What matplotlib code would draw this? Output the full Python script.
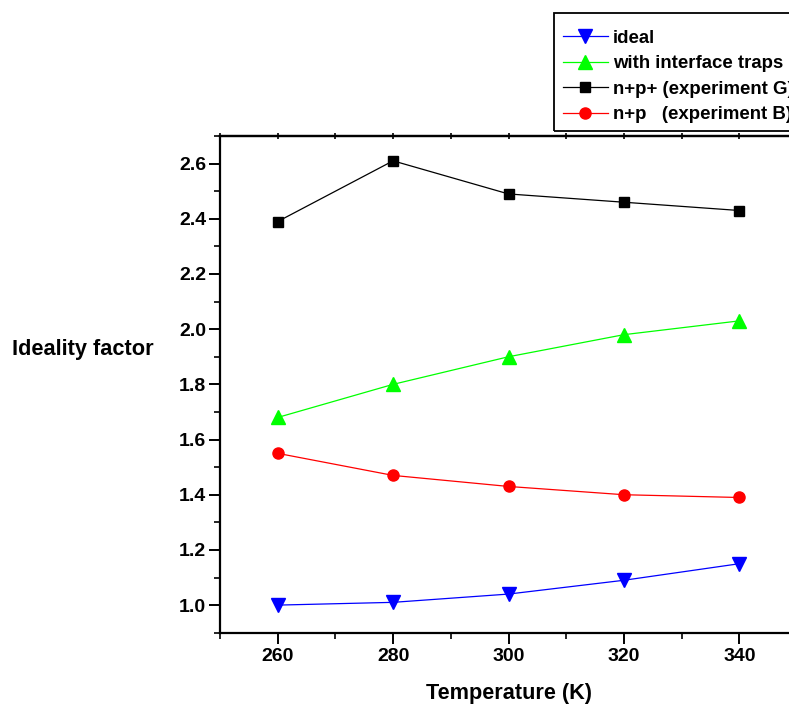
import matplotlib
matplotlib.use("Agg")
import matplotlib.pyplot as plt
from matplotlib.ticker import MultipleLocator, FormatStrFormatter
from matplotlib.patches import Rectangle

plt.rcParams['font.family'] = ['Liberation Sans', 'DejaVu Sans']
plt.rcParams['font.weight'] = 'bold'

temperature = [260, 280, 300, 320, 340]
ideal = [1.00, 1.01, 1.04, 1.09, 1.15]
interface_traps = [1.68, 1.80, 1.90, 1.98, 2.03]
exp_g = [2.39, 2.61, 2.49, 2.46, 2.43]
exp_b = [1.55, 1.47, 1.43, 1.40, 1.39]
y_ticks = [1.0, 1.2, 1.4, 1.6, 1.8, 2.0, 2.2, 2.4, 2.6]

W, H = 789, 707
fig = plt.figure(figsize=(W / 100, H / 100), dpi=100)
ax = fig.add_axes([220 / W, 1 - 632.7 / H, 577 / W, 496.7 / H])

l1, = ax.plot(temperature, ideal, color='#0000ff', lw=0.9, marker='v', ms=9.5,
              label='ideal')
l2, = ax.plot(temperature, interface_traps, color='#00ff00', lw=0.9, marker='^', ms=9.5,
              label='with interface traps')
l3, = ax.plot(temperature, exp_g, color='black', lw=0.9, marker='s', ms=7.5,
              label='n+p+ (experiment G)')
l4, = ax.plot(temperature, exp_b, color='#ff0000', lw=0.9, marker='o', ms=8,
              label='n+p   (experiment B)')

ax.set_xlim(250, 350)
ax.set_ylim(0.9, 2.7)
ax.xaxis.set_major_locator(MultipleLocator(20))
ax.xaxis.set_minor_locator(MultipleLocator(10))
ax.set_yticks(y_ticks)
ax.yaxis.set_minor_locator(MultipleLocator(0.1))
ax.yaxis.set_major_formatter(FormatStrFormatter('%.1f'))

for side in ('left', 'bottom', 'top'):
    ax.spines[side].set_linewidth(1.6)
ax.spines['right'].set_visible(False)

ax.tick_params(axis='both', which='major', direction='out', length=8, width=1.4,
               labelsize=14, pad=2)
ax.tick_params(axis='x', which='major', pad=3)
ax.tick_params(axis='both', which='minor', direction='out', length=4, width=1.2)

# small ticks crossing the top frame line
top = ax.secondary_xaxis('top')
top.xaxis.set_major_locator(MultipleLocator(20))
top.xaxis.set_minor_locator(MultipleLocator(10))
top.tick_params(axis='x', which='both', direction='inout', length=4, width=1.2,
                labeltop=False)
top.spines['top'].set_linewidth(1.6)

ax.set_xlabel('Temperature (K)', fontsize=15.6, fontweight='bold')
ax.xaxis.set_label_coords(0.5, -0.123)
ax.xaxis.label.set_va('center')
ax.set_ylabel('Ideality factor', fontsize=15.7, fontweight='bold', rotation=0,
              ha='center', va='center')
ax.yaxis.set_label_coords(-0.2374, 0.571)

# legend frame
fig.patches.append(Rectangle((554 / W, 1 - 131 / H), 300 / W, 118 / H,
                             transform=fig.transFigure, fill=False,
                             edgecolor='black', linewidth=1.3))

leg = fig.legend(handles=[l1, l2, l3, l4], loc='upper left',
                 bbox_to_anchor=(563 / W, 1 - 29.5 / H),
                 fontsize=13.4, frameon=False,
                 handlelength=2.4, handletextpad=0.3, labelspacing=0.46,
                 borderpad=0, borderaxespad=0)
for txt in leg.get_texts():
    txt.set_fontweight('bold')

fig.savefig('out.png', dpi=100)
